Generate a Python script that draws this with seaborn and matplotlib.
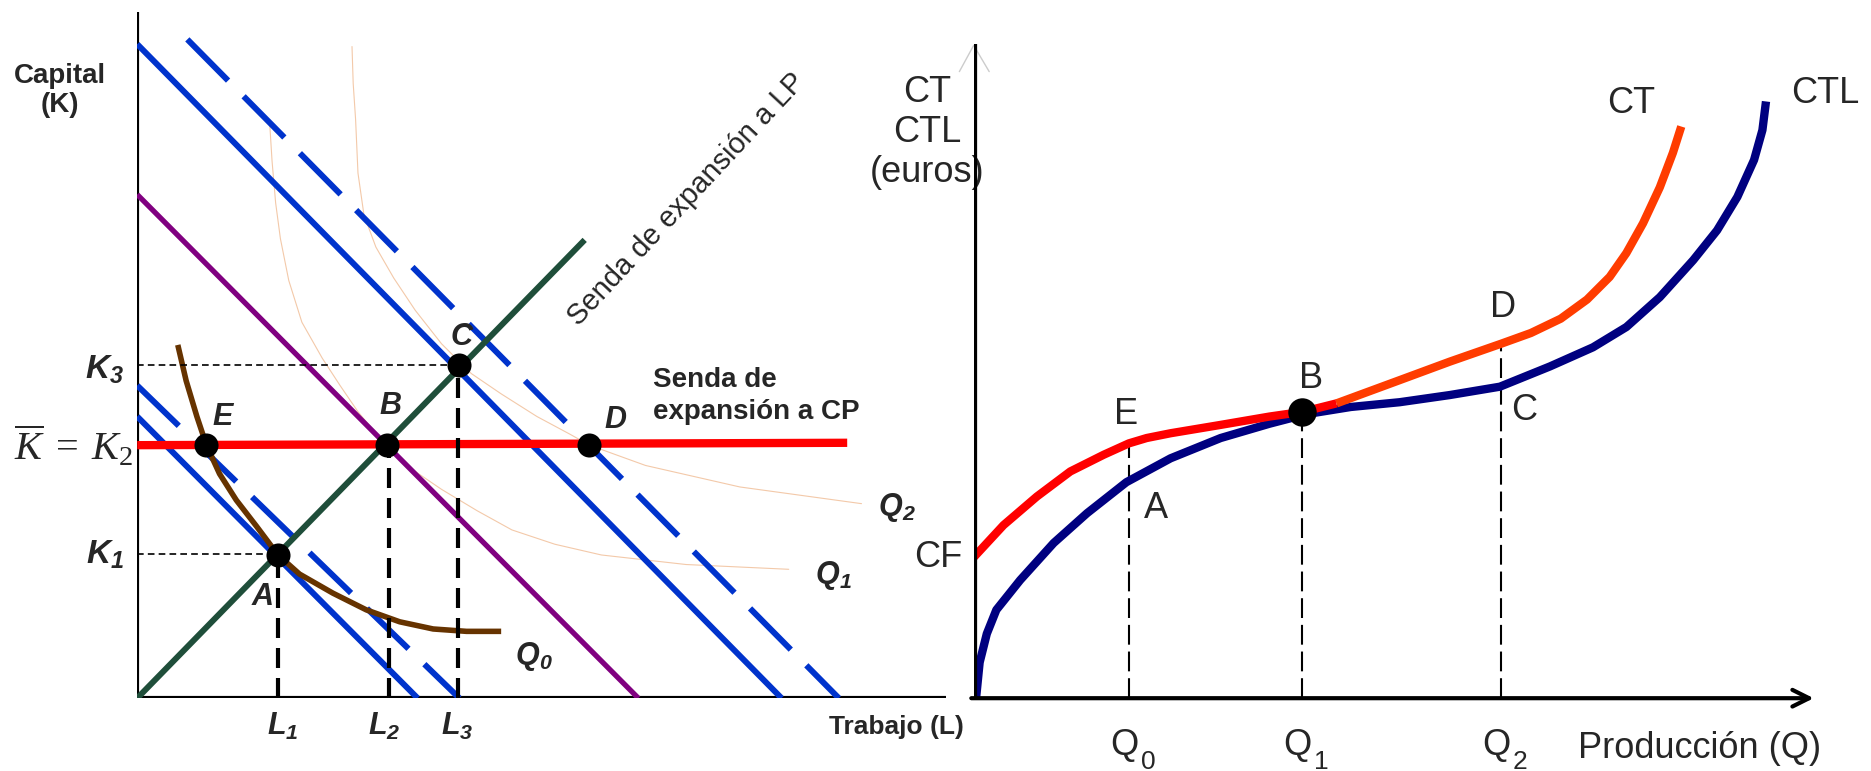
import matplotlib
matplotlib.use("Agg")
import matplotlib.pyplot as plt
import seaborn as sns

sns.set_style("white")
plt.rcParams['font.family'] = ['Liberation Sans', 'DejaVu Sans']
plt.rcParams['mathtext.fontset'] = 'custom'
plt.rcParams['mathtext.rm'] = 'Liberation Serif'
plt.rcParams['mathtext.it'] = 'Liberation Serif:italic'
plt.rcParams['mathtext.bf'] = 'Liberation Sans:bold:italic'
plt.rcParams['mathtext.sf'] = 'Liberation Sans'

###############################################################
#   Left panel: trabajo (L) vs capital (K), diagram units
###############################################################
lp_L = [0, 375]                      # senda de expansion a LP
lp_K = [0, 384]
cp_L = [0, 595]                      # senda de expansion a CP (K fijo)
cp_K = [212, 214]
iso_purple_L = [0, 420]
iso_purple_K = [422, 0]
iso1_L, iso1_K = [0, 235], [236, 0]          # isocoste solida pequena
iso1d_L, iso1d_K = [0, 270], [262, 0]        # isocoste discontinua pequena
iso2_L, iso2_K = [0, 540], [548, 0]          # isocoste solida grande
iso2d_L, iso2d_K = [42, 588], [552, 0]       # isocoste discontinua grande

q0_L = [34, 41, 50, 58, 69, 83, 100, 118, 136, 164, 192, 220, 248, 276, 305]
q0_K = [296, 266, 236, 212, 188, 166, 144, 120, 104, 88, 74, 64, 58, 56, 56]
q1_L = [111, 113, 116, 120, 127, 138, 155, 170, 185, 208, 230, 255, 285, 314, 350, 389, 460, 546]
q1_K = [482, 450, 415, 385, 350, 315, 285, 262, 240, 212, 192, 175, 157, 141, 129, 120, 112, 108]
q2_L = [180, 181, 183, 185, 190, 200, 215, 233, 255, 280, 305, 335, 363, 379, 426, 505, 607]
q2_K = [546, 515, 485, 440, 405, 378, 352, 325, 297, 272, 255, 236, 221, 212, 195, 177, 163]

pt_L = [58, 209, 379, 270, 118]      # E, B, D, C, A
pt_K = [212, 212, 212, 279, 120]
K3, K1 = 279, 121
L1, L2, L3 = 118, 211, 269

###############################################################
#   Right panel: produccion (Q) vs coste (euros)
###############################################################
ct_red_Q = [0, 25, 53, 81, 109, 130, 145, 165, 207, 248, 276, 304]
ct_red_C = [118, 145, 169, 190, 204, 213.5, 218, 222, 229, 236, 240, 247]
ct_orange_Q = [304, 357, 399, 442, 467, 492, 514, 533, 547, 561, 575, 586, 593]
ct_orange_C = [247, 266.5, 282, 297, 306, 318, 334, 353, 373, 398, 428, 457, 479]
ctl_Q = [2, 3, 5, 11, 19, 39, 67, 95, 128, 165, 207, 248, 275, 285, 316, 357, 399, 441, 483,
         519, 547, 575, 603, 623, 640, 654, 661, 664]
ctl_C = [0, 10, 30, 54, 74, 99, 130, 155, 181, 201, 218, 230, 237, 239, 244, 248, 254, 261, 278,
         294, 311, 336, 367, 392, 420, 451, 476, 500]
Q0, Q1, Q2 = 130, 275, 442
ct_at = {Q0: 213.5, Q1: 240, Q2: 297}

fig = plt.figure(figsize=(18.71, 7.71), dpi=100)
W, H = 1568, 646
ax1 = fig.add_axes([115 / W, (H - 585) / H, 700 / W, 575 / H])
ax2 = fig.add_axes([816 / W, (H - 585) / H, 752 / W, 575 / H])
for ax, w in [(ax1, 700), (ax2, 752)]:
    ax.set_xlim(0, w)
    ax.set_ylim(0, 575)
    ax.axis('off')

# ---------------- left panel ----------------
ax1.plot([0, 0], [0, 575], color='black', lw=3, solid_capstyle='butt')
ax1.plot([0, 678], [0, 0], color='black', lw=3, solid_capstyle='butt')

faint = '#f3c9a9'
sns.lineplot(x=q1_L, y=q1_K, ax=ax1, color=faint, lw=0.8, sort=False, estimator=None)
sns.lineplot(x=q2_L, y=q2_K, ax=ax1, color=faint, lw=0.8, sort=False, estimator=None)

blue = '#0033cc'
sns.lineplot(x=iso_purple_L, y=iso_purple_K, ax=ax1, color='#800080', lw=3.8, sort=False,
             estimator=None, solid_capstyle='butt')
sns.lineplot(x=iso1_L, y=iso1_K, ax=ax1, color=blue, lw=4.3, sort=False, estimator=None,
             solid_capstyle='butt')
sns.lineplot(x=iso2_L, y=iso2_K, ax=ax1, color=blue, lw=4.3, sort=False, estimator=None,
             solid_capstyle='butt')
ax1.plot(iso1d_L, iso1d_K, color=blue, lw=4.3, dashes=(9.7, 3.7), dash_capstyle='butt')
ax1.plot(iso2d_L, iso2d_K, color=blue, lw=4.3, dashes=(9.7, 3.7), dash_capstyle='butt')
sns.lineplot(x=lp_L, y=lp_K, ax=ax1, color='#1f4e3a', lw=4.3, sort=False, estimator=None,
             solid_capstyle='butt')
sns.lineplot(x=cp_L, y=cp_K, ax=ax1, color='#ff0000', lw=6, sort=False, estimator=None,
             solid_capstyle='butt')
sns.lineplot(x=q0_L, y=q0_K, ax=ax1, color='#663300', lw=4, sort=False, estimator=None,
             solid_capstyle='butt')

# guide lines
ax1.plot([0, L3], [K3, K3], color='black', lw=1.2, dashes=(4, 2.5))
ax1.plot([0, L1], [K1, K1], color='black', lw=1.2, dashes=(4, 2.5))
for l, k in [(L1, 120), (L2, 212), (L3, 279)]:
    ax1.plot([l, l], [0, k], color='black', lw=3, dashes=(4.8, 2.4), dash_capstyle='butt')

sns.scatterplot(x=pt_L, y=pt_K, ax=ax1, color='black', s=300, linewidth=0, zorder=6)

bi = dict(fontsize=22, fontweight='bold', style='italic', ha='center', va='center')
for name, x, y in [('E', 72, 236), ('B', 212, 245), ('C', 272, 303), ('D', 401, 233), ('A', 105, 85)]:
    ax1.text(x, y, name, **bi)

ax1.text(-65, 509, 'Capital\n(K)', fontsize=20, fontweight='bold', ha='center', va='center',
         linespacing=1.15)
ax1.text(-27, 275, r'$\mathbf{K_3}$', fontsize=24, ha='center', va='center')
ax1.text(-27, 120, r'$\mathbf{K_1}$', fontsize=24, ha='center', va='center')
ax1.text(-53, 212, r'$\overline{K}\;=\;K_2$', fontsize=29, ha='center', va='center',
         clip_on=False)
for x, lab in [(122, r'$\mathbf{L_1}$'), (207, r'$\mathbf{L_2}$'), (268, r'$\mathbf{L_3}$')]:
    ax1.text(x, -24, lab, fontsize=22, ha='center', va='center')
for x, y, lab in [(332, 35, r'$\mathbf{Q_0}$'), (583, 103, r'$\mathbf{Q_1}$'),
                  (637, 160, r'$\mathbf{Q_2}$')]:
    ax1.text(x, y, lab, fontsize=22, ha='center', va='center')
ax1.text(460, 418, 'Senda de expansión a LP', fontsize=21, rotation=47,
         ha='center', va='center', rotation_mode='anchor')
ax1.text(432, 253, 'Senda de\nexpansión a CP', fontsize=20, fontweight='bold',
         ha='left', va='center', linespacing=1.3)
ax1.text(636, -24, 'Trabajo (L)', fontsize=19, fontweight='bold', ha='center', va='center')

# ---------------- right panel ----------------
ax2.plot([0, 0], [-5, 548], color='black', lw=4.5, solid_capstyle='butt', zorder=5)
ax2.plot([-12, 0, 13], [525, 547, 525], color='#cccccc', lw=1, clip_on=False)
ax2.annotate('', xy=(704, 0), xytext=(-2, 0),
             arrowprops=dict(arrowstyle='->,head_length=1.2,head_width=0.6', lw=3,
                             color='black', shrinkA=0, shrinkB=0), annotation_clip=False)

for q in [Q0, Q1, Q2]:
    ax2.plot([q, q], [0, ct_at[q]], color='black', lw=1.5, dashes=(9.5, 3.3))

sns.lineplot(x=ctl_Q, y=ctl_C, ax=ax2, color='#000080', lw=6, sort=False, estimator=None,
             solid_capstyle='butt')
sns.lineplot(x=ct_orange_Q, y=ct_orange_C, ax=ax2, color='#ff3c00', lw=6, sort=False,
             estimator=None, solid_capstyle='butt')
sns.lineplot(x=ct_red_Q, y=ct_red_C, ax=ax2, color='#ff0000', lw=6, sort=False,
             estimator=None, solid_capstyle='butt')
sns.scatterplot(x=[Q1], y=[ct_at[Q1]], ax=ax2, color='black', s=420, linewidth=0, zorder=6)

rt = dict(fontsize=26, ha='center', va='center')
ax2.text(-39, 474, 'CT\nCTL\n(euros)', linespacing=1.2, **rt)
ax2.text(551, 498, 'CT', **rt)
ax2.text(714, 507, 'CTL', **rt)
ax2.text(-30, 118, 'CF', **rt)
for name, x, y in [('E', 128, 238), ('A', 153, 159), ('B', 283, 268), ('C', 461, 241),
                   ('D', 444, 327)]:
    ax2.text(x, y, name, **rt)
for q, lab in [(Q0, '0'), (Q1, '1'), (Q2, '2')]:
    ax2.text(q + 8, -48, 'Q', fontsize=26, ha='right', va='baseline')
    ax2.text(q + 10, -59, lab, fontsize=19, ha='left', va='baseline')
ax2.text(608, -42, 'Producción (Q)', **rt)

fig.savefig('out.png', dpi=100)
